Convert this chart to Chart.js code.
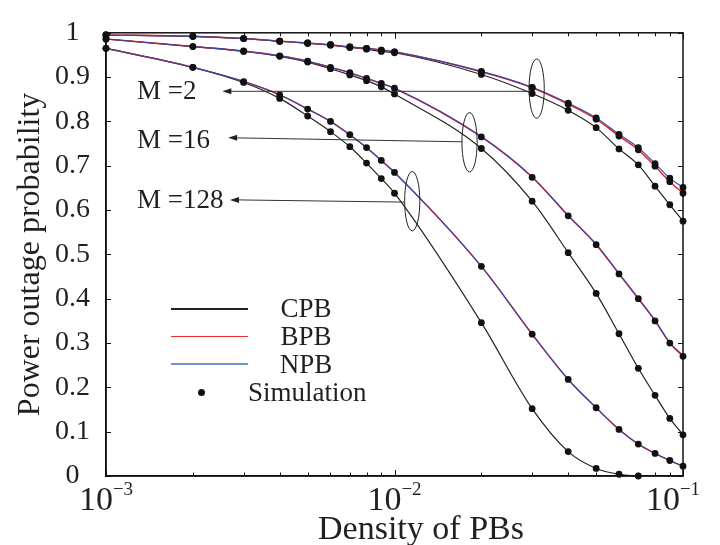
<!DOCTYPE html>
<html>
<head>
<meta charset="utf-8">
<script src="https://cdn.jsdelivr.net/npm/chart.js@4.4.1/dist/chart.umd.min.js"></script>
<style>
    html, body { margin: 0; background: #fff; }
    #wrap { position: relative; width: 720px; height: 545px; }
    #legend ul { position: absolute; left: 171px; top: 295px; margin: 0; padding: 0; list-style: none;
        font-family: 'Liberation Serif', serif; font-size: 27px; color: #231f20; }
    #legend li { display: flex; align-items: center; height: 27.8px; }
    #legend .sw { width: 77px; display: inline-block; }
    #legend .dot { width: 7px; height: 7px; border-radius: 50%; background: #111; margin-left: 27px; margin-right: 43px; }
    #legend .lbl { width: 116px; text-align: center; line-height: 27px; }
</style>
</head>
<body>
<div id="wrap">
    <canvas id="chart" width="720" height="545"></canvas>
    <div id="legend"></div>
</div>
<script>
const density = [0.001, 0.002, 0.003, 0.004, 0.005, 0.006, 0.007, 0.008, 0.009,
    0.01, 0.02, 0.03, 0.04, 0.05, 0.06, 0.07, 0.08, 0.09, 0.1];

const cpbM2 = [0.995, 0.992, 0.987, 0.981, 0.976, 0.972, 0.967, 0.963, 0.958, 0.955,
    0.906, 0.863, 0.825, 0.786, 0.738, 0.702, 0.654, 0.612, 0.575];
const bpbM2 = [0.995, 0.992, 0.987, 0.981, 0.977, 0.973, 0.968, 0.965, 0.961, 0.957,
    0.912, 0.876, 0.839, 0.805, 0.767, 0.736, 0.699, 0.664, 0.638];
const npbM2 = [0.995, 0.992, 0.987, 0.981, 0.977, 0.973, 0.968, 0.965, 0.961, 0.957,
    0.913, 0.877, 0.841, 0.808, 0.771, 0.741, 0.705, 0.672, 0.651];

const cpbM16 = [0.986, 0.969, 0.958, 0.947, 0.934, 0.919, 0.905, 0.892, 0.878, 0.862,
    0.739, 0.620, 0.504, 0.412, 0.321, 0.243, 0.182, 0.130, 0.093];
const bpbM16 = [0.986, 0.969, 0.959, 0.948, 0.936, 0.922, 0.910, 0.897, 0.886, 0.875,
    0.765, 0.674, 0.587, 0.522, 0.456, 0.400, 0.350, 0.300, 0.270];
const npbM16 = [0.986, 0.969, 0.959, 0.948, 0.936, 0.922, 0.910, 0.897, 0.886, 0.875,
    0.766, 0.675, 0.588, 0.523, 0.457, 0.401, 0.351, 0.301, 0.272];

const cpbM128 = [0.965, 0.922, 0.888, 0.852, 0.812, 0.777, 0.743, 0.706, 0.671, 0.638,
    0.346, 0.152, 0.055, 0.017, 0.004, 0.0, null, null, null];
const bpbM128 = [0.965, 0.922, 0.890, 0.860, 0.828, 0.800, 0.770, 0.741, 0.712, 0.685,
    0.473, 0.320, 0.218, 0.154, 0.105, 0.072, 0.051, 0.035, 0.022];
const npbM128 = [0.965, 0.922, 0.890, 0.860, 0.828, 0.800, 0.770, 0.741, 0.712, 0.685,
    0.473, 0.320, 0.218, 0.154, 0.105, 0.072, 0.051, 0.035, 0.022];

const yTicks = [0, 0.1, 0.2, 0.3, 0.4, 0.5, 0.6, 0.7, 0.8, 0.9, 1];
const xMajor = [0.001, 0.01, 0.1];
const xExp = ['\u22123', '\u22122', '\u22121'];

// annotation groups: label, label anchor, arrow start, arrow tip, ellipse centre
const groupNames = ['M =2', 'M =16', 'M =128'];
const labelAt = [[0.00128, 0.85], [0.00128, 0.741], [0.00128, 0.604]];
const arrowFrom = [[0.0292, 0.868], [0.01722, 0.754], [0.01083, 0.618]];
const arrowTo = [[0.00253, 0.868], [0.00265, 0.763], [0.00269, 0.623]];
const ellipseAt = [[0.0311, 0.874], [0.0182, 0.753], [0.01152, 0.62]];

const serif = "'Liberation Serif', 'Times New Roman', serif";
const ink = '#231f20';

let pts = function (arr) {
    return density.map(function (x, i) { return { x: x, y: arr[i] }; }).filter(function (p) { return p.y !== null; });
};

let lineSet = function (arr, color, width) {
    return {
        data: pts(arr),
        borderColor: color,
        borderWidth: width,
        pointRadius: 0,
        fill: false,
        cubicInterpolationMode: 'monotone',
        clip: 4
    };
};

const simPoints = [cpbM2, bpbM2, npbM2, cpbM16, bpbM16, cpbM128, bpbM128]
    .reduce(function (all, arr) { return all.concat(pts(arr)); }, []);

const datasets = [
    { data: simPoints, showLine: false, pointRadius: 3.4, pointBackgroundColor: '#111', pointBorderWidth: 0, clip: false },
    lineSet(npbM2, '#3446a8', 1.1), lineSet(npbM16, '#3446a8', 1.1), lineSet(npbM128, '#3446a8', 1.1),
    lineSet(bpbM2, '#e8262b', 1.5), lineSet(bpbM16, '#e8262b', 1.5), lineSet(bpbM128, '#e8262b', 1.5),
    lineSet(cpbM2, '#222', 1.2), lineSet(cpbM16, '#222', 1.2), lineSet(cpbM128, '#222', 1.2)
];

let seg = function (ctx, x1, y1, x2, y2) {
    ctx.beginPath(); ctx.moveTo(x1, y1); ctx.lineTo(x2, y2); ctx.stroke();
};

const decorations = {
    id: 'decorations',
    afterDraw: function (chart) {
        const ctx = chart.ctx, a = chart.chartArea, x = chart.scales.x, y = chart.scales.y;
        ctx.save();

        // box
        ctx.strokeStyle = '#111';
        ctx.lineWidth = 1.5;
        ctx.strokeRect(a.left, a.top, a.right - a.left, a.bottom - a.top);

        // inward ticks
        ctx.lineWidth = 1;
        yTicks.forEach(function (v) {
            const py = Math.round(y.getPixelForValue(v)) + 0.5;
            seg(ctx, a.left, py, a.left + 5, py);
            seg(ctx, a.right, py, a.right - 5, py);
        });
        for (let e = -3; e < -1 + 1; e++) {
            for (let d = 1; d < 10; d++) {
                const v = d * Math.pow(10, e);
                if (v > 0.1 + 1e-9) break;
                const px = Math.round(x.getPixelForValue(v)) + 0.5;
                const len = d === 1 ? 6 : 3.5;
                seg(ctx, px, a.bottom, px, a.bottom - len);
                seg(ctx, px, a.top, px, a.top + len);
            }
        }

        // x tick labels 10^n
        ctx.fillStyle = ink;
        ctx.textBaseline = 'alphabetic';
        xMajor.forEach(function (v, i) {
            const px = x.getPixelForValue(v);
            ctx.font = '34px ' + serif;
            const wb = ctx.measureText('10').width;
            ctx.font = '19px ' + serif;
            const we = ctx.measureText(xExp[i]).width;
            let left = px - (wb + we) / 2;
            if (i === xMajor.length - 1) left -= 10;
            ctx.font = '34px ' + serif;
            ctx.textAlign = 'left';
            ctx.fillText('10', left, a.bottom + 34);
            ctx.font = '19px ' + serif;
            ctx.fillText(xExp[i], left + wb, a.bottom + 19);
        });

        // x axis title
        ctx.font = '34px ' + serif;
        ctx.textAlign = 'center';
        ctx.fillText('Density of PBs', 421, a.bottom + 63);

        // group annotations
        ctx.strokeStyle = '#222';
        ctx.lineWidth = 1;
        groupNames.forEach(function (name, i) {
            const ex = x.getPixelForValue(ellipseAt[i][0]), ey = y.getPixelForValue(ellipseAt[i][1]);
            ctx.beginPath();
            ctx.ellipse(ex, ey, 7.6, 29.7, 0, 0, Math.PI * 2);
            ctx.stroke();

            const x1 = x.getPixelForValue(arrowFrom[i][0]), y1 = y.getPixelForValue(arrowFrom[i][1]);
            const x2 = x.getPixelForValue(arrowTo[i][0]), y2 = y.getPixelForValue(arrowTo[i][1]);
            ctx.strokeStyle = '#333';
            seg(ctx, x1, y1, x2 + 6, y2);
            ctx.fillStyle = '#222';
            ctx.beginPath();
            ctx.moveTo(x2, y2);
            ctx.lineTo(x2 + 9, y2 - 3);
            ctx.lineTo(x2 + 9, y2 + 3);
            ctx.closePath();
            ctx.fill();

            ctx.fillStyle = ink;
            ctx.font = '27px ' + serif;
            ctx.textAlign = 'left';
            ctx.fillText(name, x.getPixelForValue(labelAt[i][0]), y.getPixelForValue(labelAt[i][1]));
            ctx.strokeStyle = '#222';
        });

        ctx.restore();
    }
};

let chartDraw = function () {
    let ctx = document.getElementById('chart').getContext('2d');

    window.outageChart = new Chart(ctx, {
        type: 'line',
        data: { datasets: datasets },
        plugins: [decorations],
        options: {
            responsive: false,
            animation: false,
            layout: { padding: { top: 16, right: 37, left: 0, bottom: 0 } },
            plugins: { legend: { display: false }, tooltip: { enabled: false } },
            scales: {
                x: {
                    type: 'logarithmic',
                    min: 0.001,
                    max: 0.1,
                    grid: { display: false, drawTicks: false },
                    border: { display: true, color: '#111', width: 1.5 },
                    ticks: { display: false },
                    afterFit: function (s) { s.height = 69; }
                },
                y: {
                    min: 0,
                    max: 1,
                    grid: { display: false, drawTicks: false },
                    border: { display: true, color: '#111', width: 1.5 },
                    ticks: {
                        stepSize: 0.1,
                        crossAlign: 'center',
                        padding: 16,
                        color: ink,
                        font: { family: serif, size: 28 },
                        callback: function (v) { return String(Math.round(v * 10) / 10); }
                    },
                    title: {
                        display: true,
                        text: 'Power outage probability',
                        color: ink,
                        font: { family: serif, size: 32 },
                        padding: { top: 11, bottom: 0 }
                    },
                    afterFit: function (s) { s.width = 106; }
                }
            }
        }
    });
};

let legendItems = [
    { label: 'CPB', style: 'border-top: 2px solid #222;' },
    { label: 'BPB', style: 'border-top: 1.5px solid #ee2a2f;' },
    { label: 'NPB', style: 'border-top: 2px solid #7394cf;' },
    { label: 'Simulation', dot: true }
];

let customLegend = function () {
    let ul = document.createElement('ul');
    legendItems.forEach(function (item) {
        let mark = item.dot ? '<span class="dot"></span>' : `<span class="sw" style="${item.style}"></span>`;
        ul.innerHTML += `<li>${mark}<span class="lbl">${item.label}</span></li>`;
    });
    return ul.outerHTML;
};

chartDraw();
document.getElementById('legend').innerHTML = customLegend();
</script>
</body>
</html>
